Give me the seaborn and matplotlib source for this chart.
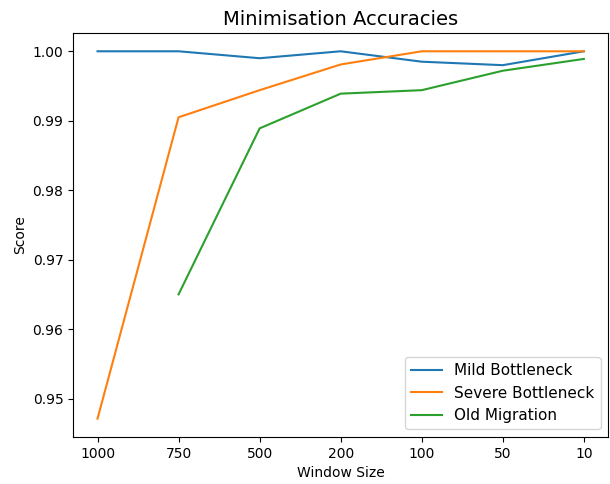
import matplotlib
matplotlib.use("Agg")
import matplotlib.pyplot as plt
import seaborn as sns
import numpy as np
import pandas as pd

windows = ["1000", "750", "500", "200", "100", "50", "10"]
mild = [1.0000, 1.0000, 0.9990, 1.0000, 0.9985, 0.9980, 1.0000]
severe = [0.9471, 0.9905, 0.9944, 0.9981, 1.0000, 1.0000, 1.0000]
old = [np.nan, 0.9650, 0.9889, 0.9939, 0.9944, 0.9972, 0.9989]
series_names = ["Mild Bottleneck", "Severe Bottleneck", "Old Migration"]

rows = []
for name, vals in zip(series_names, [mild, severe, old]):
    for w, v in zip(windows, vals):
        rows.append({"Window Size": w, "Score": v, "Series": name})
df = pd.DataFrame(rows)

fig = plt.figure(figsize=(6.1, 4.84), dpi=100)
ax = fig.add_axes([0.12, 0.097, 0.877, 0.835])
sns.lineplot(data=df, x="Window Size", y="Score", hue="Series",
             palette=["#1f77b4", "#ff7f0e", "#2ca02c"], ax=ax, sort=False)
ax.set_title("Minimisation Accuracies", fontsize=14)
ax.set_xlabel("Window Size")
ax.set_ylabel("Score")
ax.legend(loc="lower right", fontsize=11)
fig.savefig("out.png", dpi=100)
